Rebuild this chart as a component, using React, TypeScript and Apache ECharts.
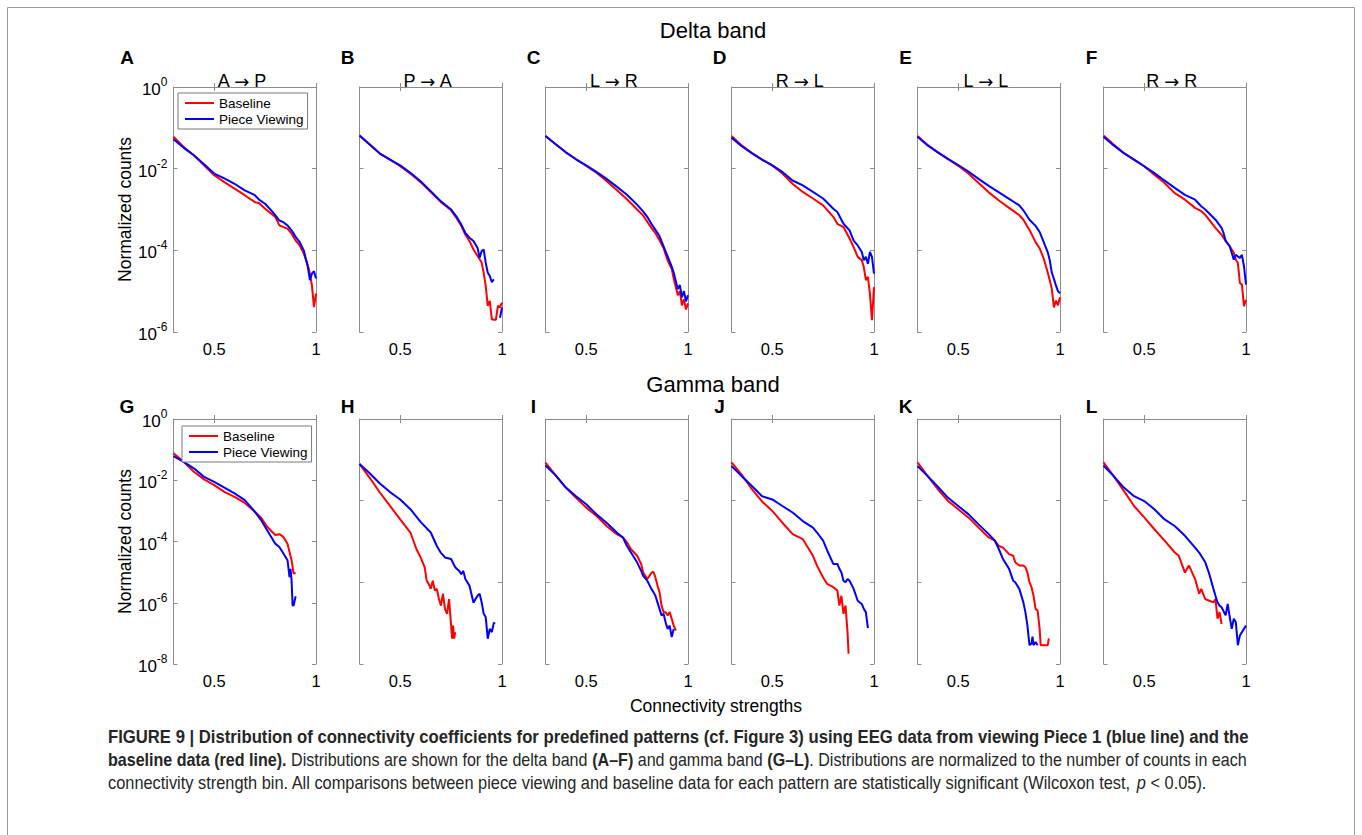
import React, { useEffect, useRef } from "react";
import * as echarts from "echarts";

type Pt = [number, number | null];

// Connectivity strength (x) and log10 of the normalized counts (y) per bin.
// Delta band
const aBaseline: Pt[] = [[0.30,-1.22],[0.35,-1.47],[0.40,-1.67],[0.45,-1.92],[0.50,-2.16],[0.55,-2.33],[0.60,-2.49],[0.65,-2.65],[0.70,-2.82],[0.72,-2.84],[0.75,-2.98],[0.80,-3.18],[0.82,-3.39],[0.84,-3.43],[0.86,-3.47],[0.88,-3.59],[0.90,-3.76],[0.92,-3.88],[0.94,-4.08],[0.96,-4.37],[0.97,-4.57],[0.98,-4.86],[0.99,-5.39],[1.00,-5.06]];
const aViewing: Pt[] = [[0.30,-1.28],[0.35,-1.49],[0.40,-1.67],[0.45,-1.89],[0.50,-2.12],[0.55,-2.24],[0.60,-2.37],[0.65,-2.53],[0.70,-2.65],[0.72,-2.76],[0.75,-2.86],[0.78,-3.02],[0.80,-3.14],[0.82,-3.27],[0.84,-3.31],[0.86,-3.39],[0.88,-3.51],[0.90,-3.67],[0.92,-3.80],[0.94,-4.00],[0.96,-4.41],[0.97,-4.73],[0.98,-4.57],[0.99,-4.51],[1.00,-4.69]];

const bBaseline: Pt[] = [[0.30,-1.19],[0.35,-1.41],[0.40,-1.63],[0.45,-1.78],[0.50,-1.94],[0.55,-2.12],[0.60,-2.33],[0.65,-2.57],[0.70,-2.82],[0.75,-3.02],[0.78,-3.24],[0.80,-3.40],[0.82,-3.62],[0.84,-3.77],[0.86,-3.98],[0.88,-4.14],[0.89,-4.22],[0.90,-4.30],[0.91,-4.55],[0.92,-4.87],[0.93,-5.36],[0.94,-5.24],[0.95,-5.69],[0.96,-5.70],[0.97,-5.70],[0.98,-5.36],[0.99,-5.40],[1.00,-5.28]];
const bViewing: Pt[] = [[0.30,-1.19],[0.35,-1.41],[0.40,-1.63],[0.45,-1.78],[0.50,-1.92],[0.55,-2.10],[0.60,-2.31],[0.65,-2.55],[0.70,-2.80],[0.75,-3.00],[0.78,-3.20],[0.80,-3.37],[0.82,-3.57],[0.84,-3.69],[0.86,-3.77],[0.88,-3.94],[0.89,-4.18],[0.90,-4.02],[0.91,-3.98],[0.92,-4.30],[0.93,-4.55],[0.94,-4.63],[0.95,-4.78],[0.96,-4.71],[0.97,null],[0.98,null],[0.99,-5.65],[1.00,-5.40]];

const cBaseline: Pt[] = [[0.30,-1.20],[0.35,-1.40],[0.40,-1.60],[0.45,-1.77],[0.50,-1.93],[0.55,-2.10],[0.60,-2.30],[0.65,-2.52],[0.70,-2.75],[0.75,-3.00],[0.78,-3.15],[0.80,-3.30],[0.82,-3.45],[0.84,-3.58],[0.86,-3.75],[0.88,-3.95],[0.90,-4.25],[0.92,-4.45],[0.93,-4.70],[0.94,-4.90],[0.95,-5.10],[0.96,-5.00],[0.97,-5.35],[0.98,-5.20],[0.99,-5.45],[1.00,-5.30]];
const cViewing: Pt[] = [[0.30,-1.20],[0.35,-1.40],[0.40,-1.60],[0.45,-1.77],[0.50,-1.92],[0.55,-2.08],[0.60,-2.25],[0.65,-2.44],[0.70,-2.64],[0.75,-2.88],[0.78,-3.05],[0.80,-3.18],[0.82,-3.35],[0.84,-3.50],[0.86,-3.65],[0.88,-3.90],[0.90,-4.15],[0.92,-4.40],[0.93,-4.55],[0.94,-4.75],[0.95,-4.95],[0.96,-4.85],[0.97,-5.15],[0.98,-5.00],[0.99,-5.25],[1.00,-5.10]];

const dBaseline: Pt[] = [[0.30,-1.20],[0.35,-1.43],[0.40,-1.62],[0.45,-1.78],[0.50,-1.92],[0.55,-2.12],[0.60,-2.37],[0.65,-2.57],[0.70,-2.73],[0.75,-2.90],[0.80,-3.18],[0.82,-3.35],[0.85,-3.43],[0.88,-3.71],[0.90,-3.92],[0.92,-4.16],[0.94,-4.24],[0.95,-4.41],[0.96,-4.73],[0.97,-4.65],[0.98,-5.06],[0.99,-5.71],[1.00,-4.90]];
const dViewing: Pt[] = [[0.30,-1.24],[0.35,-1.45],[0.40,-1.62],[0.45,-1.78],[0.50,-1.92],[0.55,-2.08],[0.60,-2.29],[0.65,-2.41],[0.70,-2.57],[0.75,-2.73],[0.80,-2.98],[0.82,-3.06],[0.85,-3.35],[0.88,-3.51],[0.90,-3.76],[0.92,-3.88],[0.94,-4.04],[0.95,-4.24],[0.96,-4.16],[0.97,-4.33],[0.98,-4.04],[0.99,-4.16],[1.00,-4.57]];

const eBaseline: Pt[] = [[0.30,-1.20],[0.35,-1.42],[0.40,-1.60],[0.45,-1.77],[0.50,-1.93],[0.55,-2.12],[0.60,-2.35],[0.65,-2.58],[0.70,-2.78],[0.75,-2.96],[0.80,-3.14],[0.82,-3.25],[0.85,-3.50],[0.88,-3.80],[0.90,-3.95],[0.92,-4.20],[0.94,-4.55],[0.95,-4.74],[0.96,-4.95],[0.97,-5.40],[0.98,-5.23],[0.99,-5.35],[1.00,-5.15]];
const eViewing: Pt[] = [[0.30,-1.22],[0.35,-1.43],[0.40,-1.60],[0.45,-1.76],[0.50,-1.91],[0.55,-2.07],[0.60,-2.25],[0.65,-2.42],[0.70,-2.58],[0.75,-2.74],[0.80,-2.90],[0.82,-3.02],[0.85,-3.25],[0.88,-3.40],[0.90,-3.55],[0.92,-3.80],[0.94,-4.05],[0.95,-4.25],[0.96,-4.55],[0.97,-4.70],[0.98,-4.86],[0.99,-5.00],[1.00,-5.05]];

const fBaseline: Pt[] = [[0.30,-1.19],[0.35,-1.41],[0.40,-1.62],[0.45,-1.78],[0.50,-1.94],[0.55,-2.15],[0.60,-2.35],[0.65,-2.60],[0.70,-2.76],[0.75,-2.96],[0.78,-3.04],[0.80,-3.13],[0.85,-3.45],[0.88,-3.62],[0.90,-3.77],[0.92,-3.90],[0.94,-4.06],[0.95,-4.23],[0.96,-4.31],[0.97,-4.80],[0.98,-4.84],[0.99,-5.37],[1.00,-5.21]];
const fViewing: Pt[] = [[0.30,-1.22],[0.35,-1.43],[0.40,-1.62],[0.45,-1.78],[0.50,-1.94],[0.55,-2.11],[0.60,-2.29],[0.65,-2.47],[0.70,-2.64],[0.75,-2.76],[0.78,-2.92],[0.80,-3.00],[0.85,-3.25],[0.88,-3.45],[0.89,-3.58],[0.90,-3.77],[0.92,-3.90],[0.94,-4.23],[0.95,-4.11],[0.96,-4.15],[0.97,-4.19],[0.98,-4.11],[0.99,-4.39],[1.00,-4.84]];

// Gamma band
const gBaseline: Pt[] = [[0.30,-1.12],[0.35,-1.40],[0.40,-1.72],[0.45,-1.97],[0.50,-2.16],[0.55,-2.38],[0.60,-2.54],[0.65,-2.74],[0.70,-3.03],[0.73,-3.22],[0.76,-3.52],[0.80,-3.79],[0.82,-3.76],[0.84,-3.85],[0.86,-4.07],[0.87,-4.34],[0.88,-4.61],[0.89,-5.05],[0.90,-5.03]];
const gViewing: Pt[] = [[0.30,-1.21],[0.35,-1.40],[0.40,-1.61],[0.45,-1.89],[0.50,-2.05],[0.55,-2.24],[0.60,-2.43],[0.65,-2.65],[0.70,-3.03],[0.73,-3.30],[0.76,-3.63],[0.80,-4.07],[0.82,-4.18],[0.84,-4.39],[0.86,-4.61],[0.87,-5.16],[0.875,-4.89],[0.88,-5.27],[0.885,-6.09],[0.89,-6.09],[0.90,-5.79]];

const hBaseline: Pt[] = [[0.30,-1.10],[0.35,-1.44],[0.40,-1.80],[0.45,-2.13],[0.50,-2.46],[0.55,-2.78],[0.58,-3.19],[0.60,-3.39],[0.62,-3.63],[0.63,-3.96],[0.64,-4.04],[0.65,-4.16],[0.66,-3.96],[0.67,-4.20],[0.68,-4.16],[0.69,-4.41],[0.70,-4.57],[0.71,-4.28],[0.72,-4.65],[0.73,-4.77],[0.74,-4.41],[0.75,-5.06],[0.755,-5.38],[0.76,-5.06],[0.765,-5.38],[0.77,-5.22]];
const hViewing: Pt[] = [[0.30,-1.10],[0.35,-1.33],[0.40,-1.58],[0.45,-1.79],[0.50,-1.97],[0.55,-2.21],[0.60,-2.52],[0.65,-2.78],[0.68,-3.11],[0.70,-3.28],[0.72,-3.39],[0.75,-3.43],[0.77,-3.63],[0.79,-3.72],[0.80,-3.80],[0.81,-3.72],[0.82,-3.92],[0.84,-4.08],[0.86,-4.50],[0.87,-4.41],[0.88,-4.33],[0.89,-4.28],[0.90,-4.49],[0.91,-4.77],[0.92,-4.85],[0.93,-5.38],[0.94,-5.14],[0.95,-5.22],[0.96,-4.99],[0.965,-5.02]];

const iBaseline: Pt[] = [[0.30,-1.07],[0.35,-1.38],[0.40,-1.68],[0.45,-1.93],[0.50,-2.17],[0.55,-2.37],[0.60,-2.62],[0.65,-2.82],[0.68,-2.90],[0.70,-3.02],[0.72,-3.19],[0.75,-3.35],[0.77,-3.55],[0.78,-3.76],[0.80,-3.92],[0.82,-3.77],[0.83,-3.74],[0.84,-3.88],[0.85,-4.08],[0.86,-4.24],[0.87,-4.57],[0.88,-4.73],[0.89,-4.73],[0.90,-4.81],[0.91,-4.73],[0.92,-4.89],[0.93,-5.06],[0.94,-5.18]];
const iViewing: Pt[] = [[0.30,-1.14],[0.35,-1.38],[0.40,-1.68],[0.45,-1.89],[0.50,-2.09],[0.55,-2.33],[0.60,-2.54],[0.65,-2.78],[0.68,-2.90],[0.70,-3.11],[0.72,-3.27],[0.75,-3.51],[0.77,-3.72],[0.78,-3.84],[0.80,-3.96],[0.82,-4.16],[0.83,-4.24],[0.84,-4.33],[0.85,-4.49],[0.86,-4.65],[0.87,-4.81],[0.88,-4.77],[0.89,-4.98],[0.90,-5.14],[0.91,-5.06],[0.92,-5.34],[0.93,-5.14]];

const jBaseline: Pt[] = [[0.30,-1.06],[0.35,-1.36],[0.40,-1.72],[0.45,-2.02],[0.50,-2.25],[0.55,-2.54],[0.60,-2.82],[0.65,-2.94],[0.70,-3.35],[0.72,-3.59],[0.75,-3.88],[0.77,-4.04],[0.80,-4.12],[0.82,-4.20],[0.83,-4.57],[0.84,-4.33],[0.85,-4.77],[0.86,-4.57],[0.87,-5.22],[0.875,-5.75]];
const jViewing: Pt[] = [[0.30,-1.15],[0.35,-1.40],[0.40,-1.64],[0.45,-1.89],[0.50,-1.97],[0.55,-2.13],[0.60,-2.29],[0.65,-2.50],[0.70,-2.66],[0.72,-2.78],[0.75,-2.98],[0.77,-3.22],[0.80,-3.55],[0.82,-3.55],[0.83,-3.67],[0.84,-3.76],[0.85,-3.96],[0.86,-4.00],[0.87,-3.92],[0.88,-3.96],[0.90,-4.16],[0.92,-4.45],[0.94,-4.53],[0.95,-4.65],[0.96,-4.73],[0.97,-5.12]];

const kBaseline: Pt[] = [[0.30,-1.06],[0.35,-1.40],[0.40,-1.72],[0.45,-2.01],[0.50,-2.21],[0.55,-2.41],[0.60,-2.66],[0.65,-2.90],[0.68,-2.98],[0.70,-3.11],[0.72,-3.15],[0.75,-3.31],[0.77,-3.35],[0.78,-3.51],[0.80,-3.59],[0.82,-3.59],[0.83,-3.63],[0.84,-3.76],[0.85,-4.00],[0.86,-4.12],[0.87,-4.33],[0.88,-4.65],[0.89,-4.69],[0.90,-5.14],[0.905,-5.54],[0.92,-5.54],[0.93,-5.54],[0.94,-5.54],[0.945,-5.37]];
const kViewing: Pt[] = [[0.30,-1.15],[0.35,-1.40],[0.40,-1.66],[0.45,-1.93],[0.50,-2.13],[0.55,-2.33],[0.60,-2.58],[0.65,-2.82],[0.68,-2.98],[0.70,-3.19],[0.72,-3.43],[0.75,-3.67],[0.77,-3.96],[0.78,-4.00],[0.80,-4.16],[0.82,-4.49],[0.83,-4.73],[0.84,-5.06],[0.85,-5.54],[0.86,-5.50],[0.865,-5.33],[0.87,-5.54],[0.88,-5.46],[0.89,-5.54]];

const lBaseline: Pt[] = [[0.30,-1.06],[0.35,-1.40],[0.40,-1.76],[0.45,-2.13],[0.50,-2.41],[0.55,-2.70],[0.60,-2.98],[0.65,-3.27],[0.67,-3.35],[0.70,-3.76],[0.72,-3.59],[0.75,-3.92],[0.77,-4.28],[0.78,-4.16],[0.80,-4.41],[0.82,-4.45],[0.84,-4.49],[0.85,-4.41],[0.86,-4.89],[0.87,-4.73],[0.88,-5.02]];
const lViewing: Pt[] = [[0.30,-1.14],[0.35,-1.40],[0.40,-1.68],[0.45,-1.89],[0.50,-2.01],[0.55,-2.21],[0.60,-2.46],[0.65,-2.62],[0.70,-2.86],[0.75,-3.15],[0.77,-3.27],[0.80,-3.51],[0.82,-3.80],[0.84,-4.16],[0.85,-4.33],[0.86,-4.49],[0.87,-4.57],[0.88,-4.61],[0.90,-4.81],[0.91,-4.53],[0.92,-4.85],[0.93,-5.14],[0.94,-4.89],[0.95,-4.98],[0.96,-5.54],[0.97,-5.30],[0.98,-5.22],[1.00,-5.06]];

const baselineSeries: Pt[][] = [aBaseline, bBaseline, cBaseline, dBaseline, eBaseline, fBaseline, gBaseline, hBaseline, iBaseline, jBaseline, kBaseline, lBaseline];
const viewingSeries: Pt[][] = [aViewing, bViewing, cViewing, dViewing, eViewing, fViewing, gViewing, hViewing, iViewing, jViewing, kViewing, lViewing];

const bandTitles = ["Delta band", "Gamma band"];
const panelLetters = ["A", "B", "C", "D", "E", "F", "G", "H", "I", "J", "K", "L"];
const patternFrom = ["A", "P", "L", "R", "L", "R"];
const patternTo = ["P", "A", "R", "L", "L", "R"];
const seriesNames = ["Baseline", "Piece Viewing"];
const xTickValues = [0.5, 1];
const yMinExponents = [-6, -6, -6, -6, -6, -6, -8, -6, -6, -6, -6, -6];
const xAxisTitle = "Connectivity strengths";
const yAxisTitle = "Normalized counts";

const FONT = "'Liberation Sans', Arial, Helvetica, sans-serif";
const ARROW_FONT = "'DejaVu Sans', sans-serif";
const RED = "#ff0000";
const BLUE = "#0000ff";
const BOX = "#8c8c8c";
const CAPTION_COLOR = "#262626";

const PANEL_LEFT0 = 173.5;
const PANEL_STEP = 186;
const PANEL_W = 142.5;
const PANEL_H = 245;
const ROW_TOP = [87, 419];

function panelLeft(i: number) {
  return PANEL_LEFT0 + PANEL_STEP * (i % 6);
}

function toSeriesData(pts: Pt[]) {
  return pts.map(([x, y]) => [x, y === null ? "-" : y]);
}

function buildOption(): any {
  const grids: any[] = [];
  const xAxes: any[] = [];
  const yAxes: any[] = [];
  const series: any[] = [];

  const tickStyle = { inside: true, length: 4, lineStyle: { color: BOX, width: 1 } };
  const lineStyle = { show: true, lineStyle: { color: BOX, width: 1 } };

  for (let i = 0; i < 12; i++) {
    const row = i < 6 ? 0 : 1;
    const labelled = i === 0 || i === 6;
    grids.push({ left: panelLeft(i), top: ROW_TOP[row], width: PANEL_W, height: PANEL_H, show: false, outerBoundsMode: "none" });

    const xBase = { gridIndex: i, type: "value", min: 0.3, max: 1, splitLine: { show: false }, axisLine: lineStyle };
    xAxes.push({
      ...xBase,
      position: "bottom",
      axisTick: { ...tickStyle, customValues: xTickValues },
      axisLabel: {
        customValues: xTickValues,
        formatter: (v: number) => String(v),
        fontSize: 16.5,
        fontFamily: FONT,
        color: "#000",
        margin: 8,
      },
    });
    xAxes.push({
      ...xBase,
      position: "top",
      axisTick: { ...tickStyle, customValues: xTickValues },
      axisLabel: { show: false },
    });

    const yBase = { gridIndex: i, type: "value", min: yMinExponents[i], max: 0, interval: 2, splitLine: { show: false }, axisLine: lineStyle, axisTick: tickStyle };
    yAxes.push({
      ...yBase,
      position: "left",
      axisLabel: {
        show: labelled,
        margin: 6,
        formatter: (v: number) => `{b|10}{e|${v}}`,
        rich: {
          b: { fontSize: 17, fontFamily: FONT, color: "#000", lineHeight: 22, verticalAlign: "bottom" },
          e: { fontSize: 12, fontFamily: FONT, color: "#000", lineHeight: 22, verticalAlign: "top" },
        },
      },
      name: labelled ? yAxisTitle : "",
      nameLocation: "middle",
      nameGap: 37,
      nameTextStyle: { fontSize: 17.5, fontFamily: FONT, color: "#000" },
    });
    yAxes.push({ ...yBase, position: "right", axisLabel: { show: false } });

    series.push({
      type: "line",
      name: seriesNames[0],
      xAxisIndex: 2 * i,
      yAxisIndex: 2 * i,
      data: toSeriesData(baselineSeries[i]),
      symbol: "none",
      showSymbol: false,
      connectNulls: false,
      lineStyle: { color: RED, width: 2 },
      itemStyle: { color: RED },
      z: 2,
    });
    series.push({
      type: "line",
      name: seriesNames[1],
      xAxisIndex: 2 * i,
      yAxisIndex: 2 * i,
      data: toSeriesData(viewingSeries[i]),
      symbol: "none",
      showSymbol: false,
      connectNulls: false,
      lineStyle: { color: BLUE, width: 2 },
      itemStyle: { color: BLUE },
      z: 3,
    });
  }

  const legendBase = {
    data: seriesNames,
    orient: "vertical",
    icon: "rect",
    itemWidth: 29,
    itemHeight: 2,
    itemGap: 2,
    padding: [3, 4, 3, 7],
    borderColor: "#7a7a7a",
    borderWidth: 1,
    borderRadius: 0,
    backgroundColor: "#fff",
    selectedMode: false,
    textStyle: { fontSize: 13.5, fontFamily: FONT, color: "#000" },
  };
  const legends = [
    { ...legendBase, left: 178, top: 93 },
    { ...legendBase, left: 182, top: 426 },
  ];

  const graphics: any[] = [];
  graphics.push({
    type: "rect",
    shape: { x: 7.5, y: 7.5, width: 1347, height: 900 },
    style: { fill: "none", stroke: "#9a9a9a", lineWidth: 1 },
    silent: true,
  });
  const bandY = [30, 384];
  bandTitles.forEach((t, r) => {
    graphics.push({
      type: "text",
      x: 713,
      y: bandY[r],
      style: { text: t, fontSize: 22, fontFamily: FONT, fill: "#000", align: "center", verticalAlign: "middle" },
    });
  });
  panelLetters.forEach((letter, i) => {
    const row = i < 6 ? 0 : 1;
    const x = i % 6 === 0 ? 127 : panelLeft(i) - 12;
    graphics.push({
      type: "text",
      x,
      y: row === 0 ? 57 : 406,
      style: { text: letter, fontSize: 19, fontWeight: "bold", fontFamily: FONT, fill: "#000", align: "center", verticalAlign: "middle" },
    });
  });
  patternFrom.forEach((from, i) => {
    graphics.push({
      type: "text",
      x: panelLeft(i) + PANEL_W / 2 - 3,
      y: 81,
      style: {
        text: `{t|${from} }{a|\u2192}{t| ${patternTo[i]}}`,
        rich: {
          t: { fontSize: 18, fontFamily: FONT, fill: "#000" },
          a: { fontSize: 18, fontFamily: ARROW_FONT, fill: "#000" },
        },
        align: "center",
        verticalAlign: "middle",
      },
    });
  });
  graphics.push({
    type: "text",
    x: 716,
    y: 706,
    style: { text: xAxisTitle, fontSize: 17.5, fontFamily: FONT, fill: "#000", align: "center", verticalAlign: "middle" },
  });

  // The caption is set in a condensed face: a regular sans squeezed horizontally.
  const capRich = {
    b: { fontSize: 18, fontWeight: "bold", fontFamily: FONT, fill: CAPTION_COLOR },
    n: { fontSize: 18, fontFamily: FONT, fill: CAPTION_COLOR },
    i: { fontSize: 18, fontStyle: "italic", fontFamily: FONT, fill: CAPTION_COLOR },
  };
  const captionLines = [
    "{b|FIGURE 9 | Distribution of connectivity coefficients for predefined patterns (cf. Figure 3) using EEG data from viewing Piece 1 (blue line) and the}",
    "{b|baseline data (red line).}{n| Distributions are shown for the delta band }{b|(A\u2013F)}{n| and gamma band }{b|(G\u2013L)}{n|. Distributions are normalized to the number of counts in each}",
    "{n|connectivity strength bin. All comparisons between piece viewing and baseline data for each pattern are statistically significant (Wilcoxon test,}{i| p}{n| < 0.05).}",
  ];
  const capY = [737, 760, 783];
  const capSqueeze = [0.927, 0.893, 0.91];
  captionLines.forEach((t, k) => {
    graphics.push({
      type: "text",
      x: 108,
      y: capY[k],
      scaleX: capSqueeze[k],
      style: { text: t, rich: capRich, fontSize: 18, fontFamily: FONT, fill: CAPTION_COLOR, align: "left", verticalAlign: "middle" },
    });
  });

  return {
    animation: false,
    backgroundColor: "#fff",
    grid: grids,
    xAxis: xAxes,
    yAxis: yAxes,
    series,
    legend: legends,
    graphic: graphics,
  };
}

export default function App() {
  const ref = useRef<HTMLDivElement>(null);
  useEffect(() => {
    if (!ref.current) return;
    const chart = echarts.init(ref.current, null, { renderer: "svg" });
    chart.setOption(buildOption());
    return () => chart.dispose();
  }, []);
  return (
    <div
      ref={ref}
      style={{ position: "absolute", left: 0, top: 0, width: 1362, height: 835, background: "#fff" }}
    />
  );
}
